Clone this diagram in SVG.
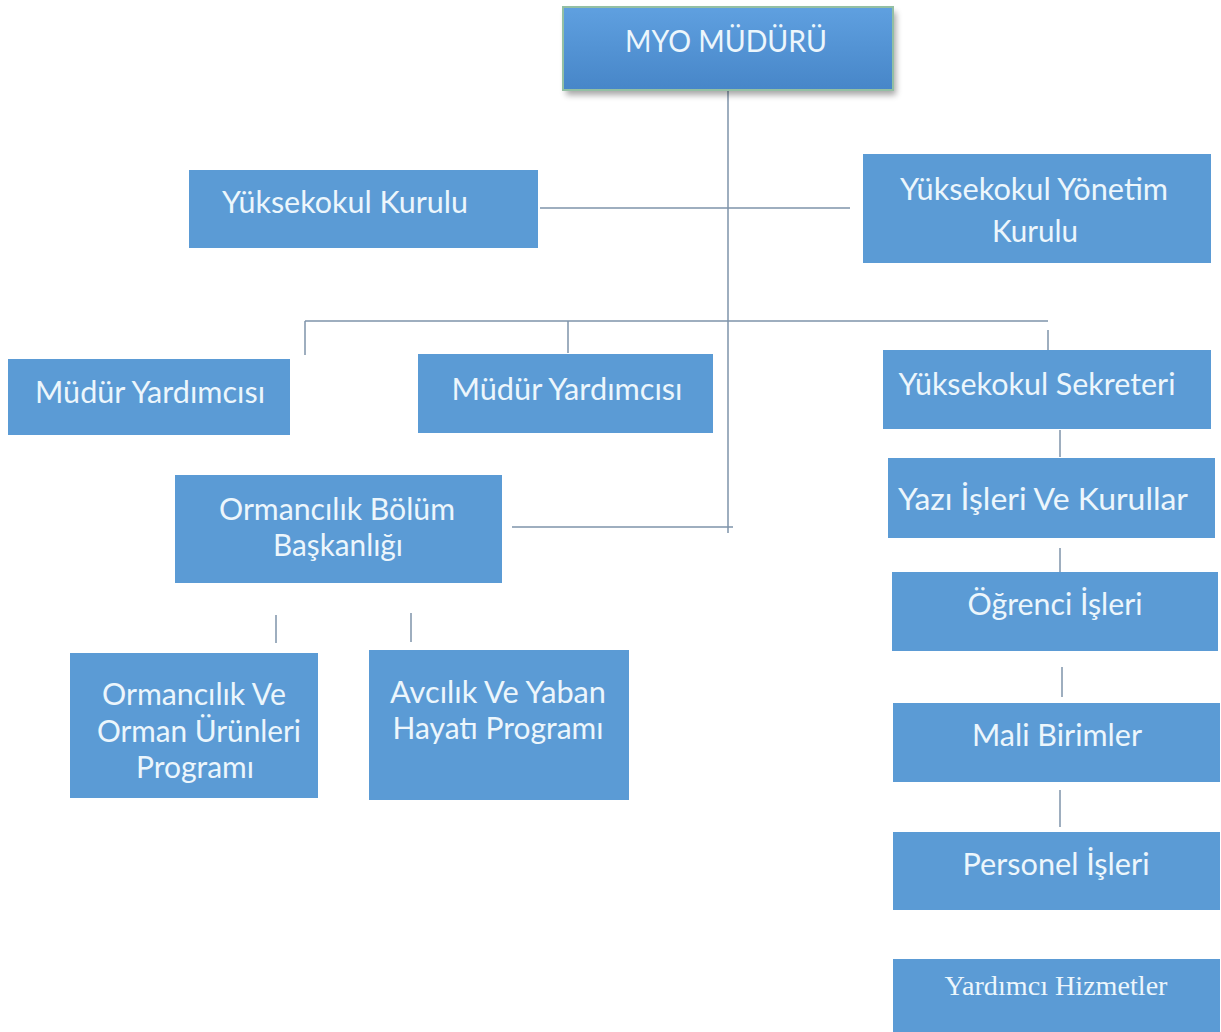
<svg xmlns="http://www.w3.org/2000/svg" width="1221" height="1032" viewBox="0 0 1221 1032">
<style>
.box{fill:#5b9bd5}
.t{font-family:Lato,"Open Sans","Liberation Sans",sans-serif;font-size:30px;fill:#ecf6fc;text-anchor:middle}
.ts{font-family:"Liberation Serif","Times New Roman",serif;font-size:28px;fill:#ecf6fc;text-anchor:middle}
.c{stroke:#7e93aa;stroke-width:1.5;fill:none}
</style>
<defs>
<linearGradient id="g" x1="0" y1="0" x2="0" y2="1">
<stop offset="0" stop-color="#5fa0e0"/>
<stop offset="1" stop-color="#4786c8"/>
</linearGradient>
<filter id="sh" x="-10%" y="-20%" width="120%" height="160%">
<feGaussianBlur stdDeviation="3"/>
</filter>
</defs>
<rect width="1221" height="1032" fill="#ffffff"/>
<g id="connectors">
<line class="c" x1="728" y1="90" x2="728" y2="533"/>
<line class="c" x1="540" y1="208" x2="850" y2="208"/>
<line class="c" x1="305" y1="321" x2="1048" y2="321"/>
<line class="c" x1="305" y1="321" x2="305" y2="355"/>
<line class="c" x1="568" y1="321" x2="568" y2="353"/>
<line class="c" x1="1048" y1="330" x2="1048" y2="350"/>
<line class="c" x1="512" y1="527" x2="733" y2="527"/>
<line class="c" x1="276" y1="615" x2="276" y2="643"/>
<line class="c" x1="411" y1="613" x2="411" y2="642"/>
<line class="c" x1="1060" y1="430" x2="1060" y2="457"/>
<line class="c" x1="1060" y1="548" x2="1060" y2="572"/>
<line class="c" x1="1062" y1="667" x2="1062" y2="697"/>
<line class="c" x1="1060" y1="790" x2="1060" y2="827"/>
</g>
<g id="myo-muduru">
<rect x="566" y="12" width="330" height="83" fill="#000" opacity="0.35" filter="url(#sh)"/>
<rect x="563" y="7" width="330" height="83" fill="url(#g)" stroke="#93bfa3" stroke-width="2"/>
<text class="t" x="726" y="52" font-size="29" textLength="202" lengthAdjust="spacingAndGlyphs">MYO MÜDÜRÜ</text>
</g>
<g id="yuksekokul-kurulu">
<rect class="box" x="189" y="170" width="349" height="78"/>
<text class="t" x="345" y="213" textLength="246" lengthAdjust="spacingAndGlyphs">Yüksekokul Kurulu</text>
</g>
<g id="yuksekokul-yonetim-kurulu">
<rect class="box" x="863" y="154" width="348" height="109"/>
<text class="t" x="1034" y="200" textLength="268" lengthAdjust="spacingAndGlyphs">Yüksekokul Yönetim</text>
<text class="t" x="1035" y="242" textLength="86" lengthAdjust="spacingAndGlyphs">Kurulu</text>
</g>
<g id="mudur-yardimcisi-1">
<rect class="box" x="8" y="359" width="282" height="76"/>
<text class="t" x="150" y="403" textLength="230" lengthAdjust="spacingAndGlyphs">Müdür Yardımcısı</text>
</g>
<g id="mudur-yardimcisi-2">
<rect class="box" x="418" y="354" width="295" height="79"/>
<text class="t" x="567" y="400" textLength="231" lengthAdjust="spacingAndGlyphs">Müdür Yardımcısı</text>
</g>
<g id="yuksekokul-sekreteri">
<rect class="box" x="883" y="350" width="328" height="79"/>
<text class="t" x="1037" y="395" textLength="277" lengthAdjust="spacingAndGlyphs">Yüksekokul Sekreteri</text>
</g>
<g id="yazi-isleri">
<rect class="box" x="888" y="458" width="327" height="80"/>
<text class="t" x="1043" y="510" textLength="290" lengthAdjust="spacingAndGlyphs">Yazı İşleri Ve Kurullar</text>
</g>
<g id="ogrenci-isleri">
<rect class="box" x="892" y="572" width="326" height="79"/>
<text class="t" x="1055" y="615" textLength="175" lengthAdjust="spacingAndGlyphs">Öğrenci İşleri</text>
</g>
<g id="mali-birimler">
<rect class="box" x="893" y="703" width="327" height="79"/>
<text class="t" x="1057" y="746" textLength="170" lengthAdjust="spacingAndGlyphs">Mali Birimler</text>
</g>
<g id="personel-isleri">
<rect class="box" x="893" y="832" width="327" height="78"/>
<text class="t" x="1056" y="875" textLength="187" lengthAdjust="spacingAndGlyphs">Personel İşleri</text>
</g>
<g id="yardimci-hizmetler">
<rect class="box" x="893" y="959" width="327" height="73"/>
<text class="ts" x="1056" y="995" textLength="223" lengthAdjust="spacingAndGlyphs">Yardımcı Hizmetler</text>
</g>
<g id="ormancilik-bolum">
<rect class="box" x="175" y="475" width="327" height="108"/>
<text class="t" x="337" y="520" textLength="236" lengthAdjust="spacingAndGlyphs">Ormancılık Bölüm</text>
<text class="t" x="338" y="556" textLength="130" lengthAdjust="spacingAndGlyphs">Başkanlığı</text>
</g>
<g id="ormancilik-programi">
<rect class="box" x="70" y="653" width="248" height="145"/>
<text class="t" x="194" y="705" textLength="184" lengthAdjust="spacingAndGlyphs">Ormancılık Ve</text>
<text class="t" x="199" y="742" textLength="204" lengthAdjust="spacingAndGlyphs">Orman Ürünleri</text>
<text class="t" x="195" y="778" textLength="118" lengthAdjust="spacingAndGlyphs">Programı</text>
</g>
<g id="avcilik-programi">
<rect class="box" x="369" y="650" width="260" height="150"/>
<text class="t" x="498" y="703" textLength="216" lengthAdjust="spacingAndGlyphs">Avcılık Ve Yaban</text>
<text class="t" x="498" y="739" textLength="211" lengthAdjust="spacingAndGlyphs">Hayatı Programı</text>
</g>
</svg>
